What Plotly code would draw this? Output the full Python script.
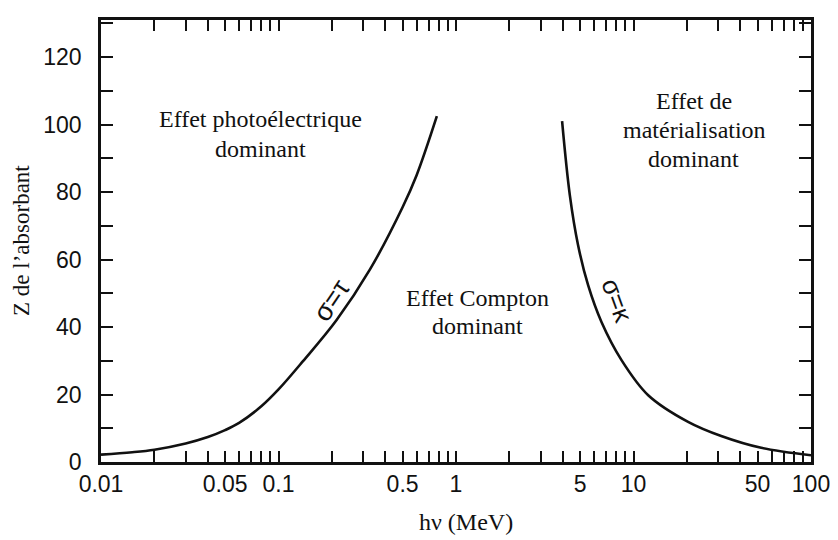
import plotly.graph_objects as go

# ---- data ----
# sigma = tau boundary (photoelectric / Compton)
tau_energy = [0.01, 0.015, 0.02, 0.03, 0.04, 0.05, 0.06, 0.08, 0.1, 0.137, 0.212, 0.327, 0.5, 0.6, 0.78]
tau_z = [2.2, 2.9, 3.65, 5.5, 7.4, 9.45, 11.6, 16.5, 21.5, 29.8, 42.0, 57.0, 75.5, 85.0, 102.5]
# sigma = kappa boundary (Compton / pair production)
kappa_energy = [3.96, 4.38, 4.87, 5.55, 6.6, 8.56, 12.1, 20.3, 31.2, 52.4, 100.0]
kappa_z = [101.0, 79.0, 64.3, 52.4, 41.5, 30.2, 19.8, 11.9, 7.7, 4.2, 2.0]

x_labelled = {0.01: "0.01", 0.05: "0.05", 0.1: "0.1", 0.5: "0.5", 1: "1",
              5: "5", 10: "10", 50: "50", 100: "100"}
y_ticks = list(range(0, 131, 10))
y_labelled = [0, 20, 40, 60, 80, 100, 120]

# ---- figure ----
# the page body has an 8 px margin, so the figure is drawn 8 px smaller
OFF = 8
W, H = 838 - OFF, 540 - OFF
L, R, T, B = 101 - OFF, 27, 20 - OFF, 78
PW, PH = W - L - R, H - T - B

def px(xp):
    return (xp - OFF - L) / PW

def py(yp):
    return (H - B - (yp - OFF)) / PH

x_tickvals = []
for d in range(-2, 2):
    for k in range(1, 10):
        x_tickvals.append(round(k * 10 ** d, 6))
x_tickvals.append(100)
x_ticktext = []
for v in x_tickvals:
    key = None
    for kk in x_labelled:
        if abs(kk - v) < 1e-9:
            key = kk
    x_ticktext.append(x_labelled[key] if key is not None else "")

fig = go.Figure()
line_style = dict(color="#111111", width=2.6, shape="spline", smoothing=1.0)
fig.add_trace(go.Scatter(x=tau_energy, y=tau_z, mode="lines", line=line_style,
                         showlegend=False, hoverinfo="skip"))
fig.add_trace(go.Scatter(x=kappa_energy, y=kappa_z, mode="lines", line=line_style,
                         showlegend=False, hoverinfo="skip"))

serif = "Liberation Serif, Times New Roman, serif"
sans = "Liberation Sans, Arial, sans-serif"
ann = []

def txt(text, xp, yp, size=24, angle=0, family=serif):
    ann.append(dict(text=text, x=px(xp), y=py(yp), xref="paper", yref="paper",
                    xanchor="center", yanchor="middle", showarrow=False,
                    textangle=angle, font=dict(family=family, size=size, color="#111111")))

txt("Effet photoélectrique", 260, 119)
txt("dominant", 260, 149)
txt("Effet Compton", 478, 298)
txt("dominant", 477, 326)
txt("Effet de", 694, 101)
txt("matérialisation", 694, 130)
txt("dominant", 693, 159)
txt("σ=τ", 331, 301, size=27, angle=-56, family=sans)
txt("σ=κ", 617, 300, size=26, angle=70, family=sans)
txt("Z de l’absorbant", 21, 241, size=23, angle=-90)
txt("hν (MeV)", 466, 522, size=24)

fig.update_layout(
    width=W, height=H,
    margin=dict(l=L, r=R, t=T, b=B, autoexpand=False),
    paper_bgcolor="white", plot_bgcolor="white",
    annotations=ann,
    xaxis=dict(type="log", range=[-2, 2], tickmode="array", tickvals=x_tickvals,
               ticktext=x_ticktext, ticks="inside", ticklen=11, tickwidth=2,
               tickcolor="#111111", showline=True, linewidth=2.5, linecolor="#111111",
               mirror="allticks", showgrid=False, zeroline=False, automargin=False,
               tickfont=dict(family=sans, size=23, color="#111111")),
    yaxis=dict(range=[0, 131], tickmode="array", tickvals=y_ticks,
               ticktext=[str(v) if v in y_labelled else "" for v in y_ticks],
               ticks="inside", ticklen=12, tickwidth=2, tickcolor="#111111",
               showline=True, linewidth=2.5, linecolor="#111111", mirror="allticks",
               showgrid=False, zeroline=False, ticklabelstandoff=12, automargin=False,
               tickfont=dict(family=sans, size=23, color="#111111")),
)

fig.write_html("out.html")
